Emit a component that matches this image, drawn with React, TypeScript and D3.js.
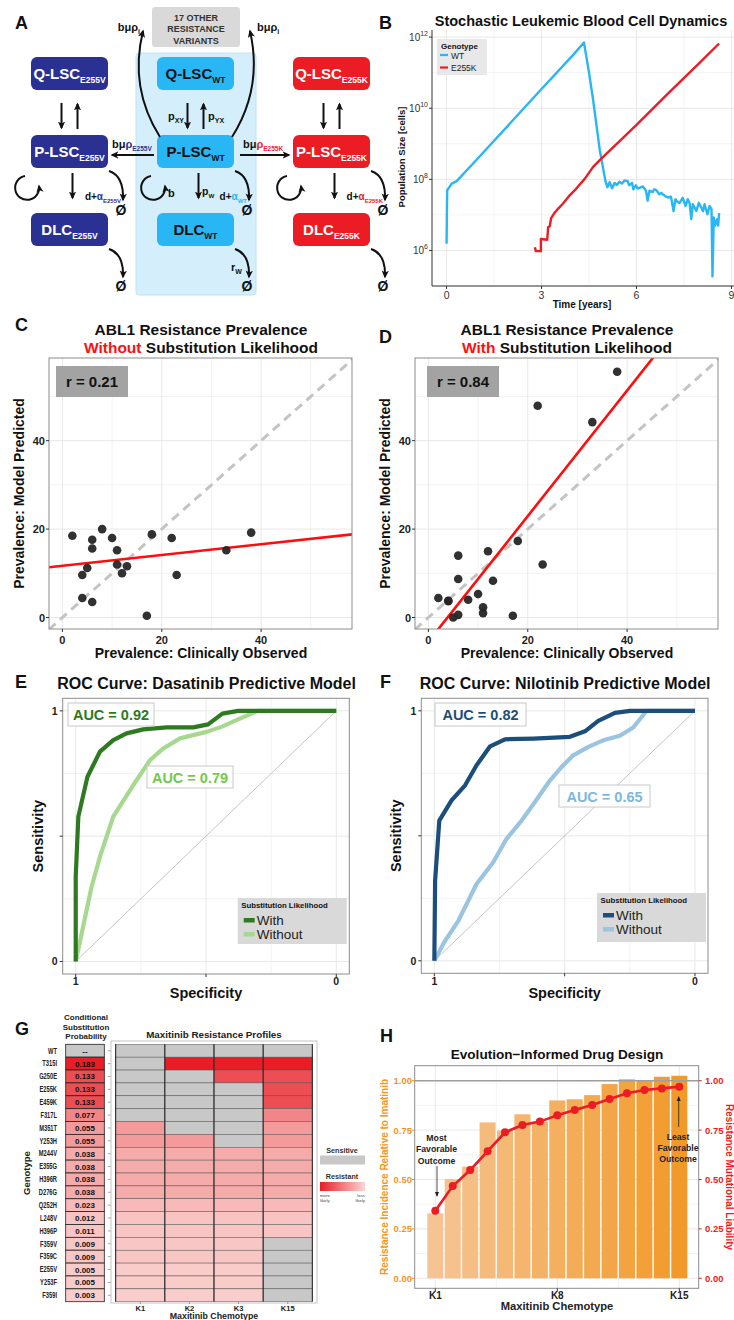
import React from 'react';
import * as d3 from 'd3';

const FONT = '"Liberation Sans", Arial, Helvetica, sans-serif';

const NAVY = '#2b3192';
const SKY = '#29b6f5';
const RED = '#ec1c24';
const ORANGE = '#f7941d';
const GRID = '#e8e8e8';
const GRID_MINOR = '#f3f3f3';
const FRAME = '#8c8c8c';

// ---- panel B: population size over time, [years, log10 cells]
const wtSeries: [number, number][] = [
  [0, 6.19], [0.01, 7.0], [0.02, 7.69], [0.16, 7.88], [0.32, 7.95], [1.0, 8.6], [2.0, 9.57],
  [3.0, 10.54], [4.0, 11.5], [4.34, 11.85], [4.5, 11.0], [4.63, 10.23], [4.84, 8.82],
  [5.02, 7.95], [5.08, 7.78], [5.15, 7.92], [5.23, 7.75], [5.31, 7.9], [5.38, 7.84],
  [5.46, 7.93], [5.54, 7.88], [5.62, 7.97], [5.72, 7.95], [5.77, 7.83], [5.86, 7.9],
  [5.9, 7.72], [5.98, 7.83], [6.04, 7.74], [6.09, 7.76], [6.2, 7.8], [6.3, 7.68],
  [6.35, 7.4], [6.41, 7.68], [6.51, 7.64], [6.56, 7.72], [6.62, 7.7], [6.72, 7.58],
  [6.78, 7.62], [6.83, 7.58], [6.92, 7.52], [6.99, 7.49], [7.09, 7.51], [7.17, 7.11],
  [7.23, 7.44], [7.3, 7.36], [7.36, 7.34], [7.46, 7.48], [7.55, 7.25], [7.62, 7.44],
  [7.68, 7.32], [7.73, 6.88], [7.78, 7.3], [7.84, 7.2], [7.89, 7.11], [7.97, 7.34],
  [8.05, 7.2], [8.1, 7.1], [8.15, 7.3], [8.24, 7.02], [8.31, 7.25], [8.37, 7.16],
  [8.4, 5.27], [8.44, 6.93], [8.48, 6.7], [8.55, 6.88], [8.58, 6.7], [8.61, 7.05],
];
const e255kSeries: [number, number][] = [
  [2.79, 6.09], [2.82, 5.98], [2.98, 5.98], [2.98, 6.32], [3.18, 6.3], [3.21, 6.66],
  [3.26, 6.68], [3.3, 6.9], [3.39, 7.03], [3.52, 7.17], [3.68, 7.32], [3.89, 7.55],
  [4.1, 7.74], [4.37, 8.02], [4.63, 8.35], [4.84, 8.54], [5.5, 9.1], [6.0, 9.53],
  [7.0, 10.42], [8.0, 11.28], [8.61, 11.82],
];
const timeTicks = [0, 3, 6, 9];
const logTicks = [6, 8, 10, 12];

// ---- panels C, D: prevalence, one entry per resistance genotype
const clinicalObserved = [2, 8, 6, 6, 10, 11, 11, 5, 4, 4, 6, 13, 12, 18, 22, 23, 17, 33, 38];
const predictedWithout = [18.5, 20, 17.6, 15.6, 18, 15.2, 12, 11.2, 9.6, 4.4, 3.5, 11.6, 10, 18.8, 18, 9.6, 0.4, 15.2, 19.2];
const predictedWith = [4.4, 4.0, 14.0, 8.7, 5.3, 2.3, 1.0, 0.0, 3.8, 3.7, 0.6, 8.3, 15.0, 17.3, 47.9, 12.0, 0.4, 44.2, 55.6];
const prevalenceTicks = [0, 20, 40];
const fitWithout = { intercept: 11.7, slope: 0.122, r: '0.21' };
const fitWith = { intercept: -5.46, slope: 1.42, r: '0.84' };

// ---- panels E, F: ROC curves
const dasWithSpec = [1, 1, 0.99, 0.955, 0.907, 0.856, 0.805, 0.741, 0.651, 0.549, 0.492, 0.437, 0.377, 0];
const dasWithSens = [0, 0.339, 0.578, 0.737, 0.837, 0.883, 0.91, 0.926, 0.934, 0.934, 0.946, 0.989, 1, 1];
const dasWithoutSpec = [1, 0.977, 0.939, 0.907, 0.856, 0.779, 0.715, 0.664, 0.6, 0.498, 0.441, 0.37, 0.3, 0];
const dasWithoutSens = [0, 0.113, 0.299, 0.418, 0.578, 0.704, 0.803, 0.85, 0.89, 0.916, 0.936, 0.969, 1, 1];
const nilWithSpec = [1, 0.997, 0.981, 0.934, 0.882, 0.838, 0.786, 0.729, 0.62, 0.48, 0.422, 0.371, 0.307, 0.249, 0];
const nilWithSens = [0, 0.321, 0.561, 0.642, 0.702, 0.782, 0.858, 0.886, 0.889, 0.896, 0.918, 0.96, 0.992, 1, 1];
const nilWithoutSpec = [1, 0.959, 0.908, 0.838, 0.774, 0.723, 0.665, 0.614, 0.556, 0.512, 0.467, 0.409, 0.352, 0.288, 0.237, 0.185, 0];
const nilWithoutSens = [0, 0.08, 0.16, 0.307, 0.394, 0.488, 0.561, 0.635, 0.722, 0.775, 0.822, 0.856, 0.882, 0.9, 0.933, 1, 1];
const legendItems = ['With', 'Without'];

// ---- panel G: resistance profiles
const genotypes = ['WT', 'T315I', 'G250E', 'E255K', 'E459K', 'F317L', 'M351T', 'Y253H', 'M244V', 'E355G',
  'H396R', 'D276G', 'Q252H', 'L248V', 'H396P', 'F359V', 'F359C', 'E255V', 'Y253F', 'F359I'];
const substitutionProb = [null, 0.183, 0.133, 0.133, 0.133, 0.077, 0.055, 0.055, 0.038, 0.038,
  0.038, 0.038, 0.023, 0.012, 0.011, 0.009, 0.009, 0.005, 0.005, 0.003];
const chemotypesG = ['K1', 'K2', 'K3', 'K15'];
const resK1 = [0, 0, 0, 0, 0, 0, 1, 1, 1, 1, 1, 1, 1, 1, 1, 1, 1, 1, 1, 1];
const resK2 = [0, 1, 0, 0, 0, 0, 0, 1, 1, 1, 1, 1, 1, 1, 1, 1, 1, 1, 1, 1];
const resK3 = [0, 1, 1, 0, 0, 0, 0, 0, 1, 1, 1, 1, 1, 1, 1, 1, 1, 1, 1, 1];
const resK15 = [0, 1, 1, 1, 1, 1, 1, 1, 1, 1, 1, 1, 1, 1, 1, 0, 0, 0, 0, 0];

// ---- panel H: drug design
const chemotypesH = ['K1', 'K2', 'K3', 'K4', 'K5', 'K6', 'K7', 'K8', 'K9', 'K10', 'K11', 'K12', 'K13', 'K14', 'K15'];
const incidence = [0.329, 0.502, 0.565, 0.789, 0.747, 0.83, 0.793, 0.9, 0.906, 0.927, 0.983, 1.007, 1.0, 1.02, 1.025];
const liability = [0.342, 0.467, 0.548, 0.643, 0.739, 0.776, 0.793, 0.825, 0.852, 0.877, 0.907, 0.936, 0.953, 0.961, 0.97];
const hTicks = [0, 0.25, 0.5, 0.75, 1];
const hLabelled = ['K1', 'K8', 'K15'];

const Letter = ({ x, y, c }: any) => (
  <text x={x} y={y} fontSize={18} fontWeight="bold" fill="#111">{c}</text>
);

// ================= A =================
function PanelA() {
  const BW = 77, BH = 33;
  const cols = [
    { x: 31, fill: NAVY, ink: '#fff', sub: 'E255V', accent: NAVY },
    { x: 157, fill: SKY, ink: '#111', sub: 'WT', accent: SKY },
    { x: 293, fill: RED, ink: '#fff', sub: 'E255K', accent: RED },
  ];
  const rows = [{ y: 57, main: 'Q-LSC' }, { y: 135, main: 'P-LSC' }, { y: 213, main: 'DLC' }];
  const arrow = { stroke: '#111', strokeWidth: 2, fill: 'none', markerEnd: 'url(#ah)' };
  return (
    <g>
      <Letter x={15} y={29} c="A" />
      <rect x={136} y={53} width={120} height={242} rx={3} fill="#d4eefb" stroke="#c0e2f4" />
      <rect x={152} y={7} width={88} height={40} rx={3} fill="#d9d9d9" />
      {['17 OTHER', 'RESISTANCE', 'VARIANTS'].map((t, i) => (
        <text key={t} x={196} y={20.5 + i * 11.5} textAnchor="middle" fontSize={9} fontWeight="bold" fill="#333">{t}</text>
      ))}
      {cols.map((c) => {
        const cx = c.x + BW / 2;
        const R = c.x + BW;
        return (
          <g key={c.sub}>
            {rows.map((r) => (
              <g key={r.main}>
                <rect x={c.x} y={r.y} width={BW} height={BH} rx={6} fill={c.fill} />
                <text x={cx} y={r.y + BH / 2 + 5} textAnchor="middle" fontSize={15} fontWeight="bold" fill={c.ink}>
                  {r.main}<tspan fontSize={8.5} dy={4}>{c.sub}</tspan>
                </text>
              </g>
            ))}
            <path d={`M${cx - 8},103 L${cx - 8},128`} {...arrow} />
            <path d={`M${cx + 8},129 L${cx + 8},104`} {...arrow} />
            <path d={`M${cx + 3},173 L${cx + 3},198`} {...arrow} />
            <path d={`M${c.x - 6},176 A12,12 0 1 0 ${c.x + 8},186`} {...arrow} />
            <path d={`M${R + 1},171 Q${R + 16},176 ${R + 15},200`} {...arrow} />
            <path d={`M${R + 1},249 Q${R + 16},254 ${R + 15},277`} {...arrow} />
            <text x={R + 13} y={215} textAnchor="middle" fontSize={14} fontWeight="bold" fill="#111">Ø</text>
            <text x={R + 13} y={291} textAnchor="middle" fontSize={14} fontWeight="bold" fill="#111">Ø</text>
            <text x={R + 13} y={200} textAnchor="end" fontSize={10} fontWeight="bold" fill="#111">
              d+<tspan fill={c.accent}>α</tspan><tspan fill={c.accent} fontSize={6} dy={3}>{c.sub}</tspan>
            </text>
          </g>
        );
      })}
      <text x={184} y={120} textAnchor="end" fontSize={11} fontWeight="bold" fill="#111">p<tspan fontSize={7} dy={3}>XY</tspan></text>
      <text x={208} y={120} fontSize={11} fontWeight="bold" fill="#111">p<tspan fontSize={7} dy={3}>YX</tspan></text>
      <text x={202} y={195} fontSize={10.5} fontWeight="bold" fill="#111">p<tspan fontSize={6.2} dy={3}>W</tspan></text>
      <text x={168} y={197} fontSize={11} fontWeight="bold" fill="#111">b</text>
      <text x={231} y={271} fontSize={11} fontWeight="bold" fill="#111">r<tspan fontSize={7} dy={3}>W</tspan></text>
      <path d="M154,155 L112,155" {...arrow} />
      <path d="M240,155 L289,155" {...arrow} />
      <text x={112} y={148} fontSize={11} fontWeight="bold" fill="#111">
        bμ<tspan fill={NAVY}>ρ</tspan><tspan fill={NAVY} fontSize={6.5} dy={3}>E255V</tspan>
      </text>
      <text x={243} y={148} fontSize={11} fontWeight="bold" fill="#111">
        bμ<tspan fill={RED}>ρ</tspan><tspan fill={RED} fontSize={6.5} dy={3}>E255K</tspan>
      </text>
      <path d="M160,137 Q129,88 143,31" {...arrow} />
      <path d="M232,137 Q263,88 250,31" {...arrow} />
      <text x={140} y={31} textAnchor="end" fontSize={11} fontWeight="bold" fill="#111">bμρ<tspan fontSize={7} dy={3}>i</tspan></text>
      <text x={257} y={31} fontSize={11} fontWeight="bold" fill="#111">bμρ<tspan fontSize={7} dy={3}>i</tspan></text>
    </g>
  );
}

// ================= B =================
function PanelB() {
  const x = d3.scaleLinear().domain([-0.46, 9.08]).range([432, 734]);
  const y = d3.scaleLinear().domain([5, 12.2]).range([286, 30]);
  const line = d3.line<[number, number]>().x((d) => x(d[0])).y((d) => y(d[1]));
  return (
    <g>
      <Letter x={379} y={29} c="B" />
      <text x={581} y={26} textAnchor="middle" fontSize={14.5} fontWeight="bold" fill="#111">Stochastic Leukemic Blood Cell Dynamics</text>
      {[1.5, 4.5, 7.5].map((t) => <line key={t} x1={x(t)} x2={x(t)} y1={30} y2={286} stroke={GRID_MINOR} />)}
      {[5, 7, 9, 11].map((t) => <line key={t} x1={432} x2={734} y1={y(t)} y2={y(t)} stroke={GRID_MINOR} />)}
      {timeTicks.map((t) => <line key={t} x1={x(t)} x2={x(t)} y1={30} y2={286} stroke={GRID} />)}
      {logTicks.map((t) => <line key={t} x1={432} x2={734} y1={y(t)} y2={y(t)} stroke={GRID} />)}
      <path d={line(wtSeries) || ''} fill="none" stroke={SKY} strokeWidth={2.4} strokeLinejoin="round" />
      <path d={line(e255kSeries) || ''} fill="none" stroke={RED} strokeWidth={2.4} strokeLinejoin="round" />
      <line x1={432} x2={432} y1={30} y2={286} stroke="#333" />
      <line x1={432} x2={734} y1={286} y2={286} stroke="#333" />
      {timeTicks.map((t) => (
        <g key={t}>
          <line x1={x(t)} x2={x(t)} y1={286} y2={289} stroke="#333" />
          <text x={x(t)} y={299} textAnchor="middle" fontSize={10.5} fill="#333">{t}</text>
        </g>
      ))}
      {logTicks.map((t) => (
        <g key={t}>
          <line x1={429} x2={432} y1={y(t)} y2={y(t)} stroke="#333" />
          <text x={428} y={y(t) + 4} textAnchor="end" fontSize={10} fill="#333">10<tspan fontSize={7} dy={-5}>{t}</tspan></text>
        </g>
      ))}
      <text x={582} y={308} textAnchor="middle" fontSize={10} fontWeight="bold" fill="#111">Time [years]</text>
      <text transform={`translate(405,157) rotate(-90)`} textAnchor="middle" fontSize={9.5} fontWeight="bold" fill="#111">Population Size [cells]</text>
      <rect x={437} y={39} width={50} height={36} fill="#e8e8e8" />
      <text x={441} y={49} fontSize={8} fontWeight="bold" fill="#111">Genotype</text>
      {[{ n: 'WT', c: SKY }, { n: 'E255K', c: RED }].map((d, i) => (
        <g key={d.n}>
          <line x1={440} x2={448} y1={55 + i * 12.5} y2={55 + i * 12.5} stroke={d.c} strokeWidth={2.2} />
          <text x={451} y={58.5 + i * 12.5} fontSize={8.5} fill="#222">{d.n}</text>
        </g>
      ))}
    </g>
  );
}

// ================= C / D =================
function ScatterPanel({ px, letterY, letterX, word, pred, fit, rBoxX }: any) {
  const pw = 303, py = 358, ph = 271;
  const x = d3.scaleLinear().domain([-2.7, 58.3]).range([px, px + pw]);
  const y = d3.scaleLinear().domain([-2.6, 58.7]).range([py + ph, py]);
  const id = `clip${px}`;
  const minor = [10, 30, 50];
  const fitLine = d3.line<number>().x((d) => x(d)).y((d) => y(fit.intercept + fit.slope * d));
  const cx = px + pw / 2;
  return (
    <g>
      <Letter x={letterX} y={letterY} c={letterX < 100 ? 'C' : 'D'} />
      <text x={cx + 0.5} y={335} textAnchor="middle" fontSize={15.5} fontWeight="bold" fill="#111">ABL1 Resistance Prevalence</text>
      <text x={cx + 0.5} y={353} textAnchor="middle" fontSize={15.5} fontWeight="bold" fill="#111">
        <tspan fill="#ff1010">{word}</tspan> Substitution Likelihood
      </text>
      <clipPath id={id}><rect x={px} y={py} width={pw} height={ph} /></clipPath>
      {minor.map((t) => (
        <g key={t}>
          <line x1={x(t)} x2={x(t)} y1={py} y2={py + ph} stroke={GRID_MINOR} />
          <line x1={px} x2={px + pw} y1={y(t)} y2={y(t)} stroke={GRID_MINOR} />
        </g>
      ))}
      {prevalenceTicks.map((t) => (
        <g key={t}>
          <line x1={x(t)} x2={x(t)} y1={py} y2={py + ph} stroke={GRID} />
          <line x1={px} x2={px + pw} y1={y(t)} y2={y(t)} stroke={GRID} />
        </g>
      ))}
      <g clipPath={`url(#${id})`}>
        <line x1={x(-5)} y1={y(-5)} x2={x(62)} y2={y(62)} stroke="#c4c4c4" strokeWidth={3} strokeDasharray="9 6" />
        <path d={fitLine([-5, 62]) || ''} stroke="#ff0d0d" strokeWidth={2.6} fill="none" />
      </g>
      {clinicalObserved.map((v, i) => (
        <circle key={i} cx={x(v)} cy={y(pred[i])} r={4.3} fill="#262626" fillOpacity={0.95} />
      ))}
      <rect x={px} y={py} width={pw} height={ph} fill="none" stroke={FRAME} />
      <rect x={rBoxX} y={366} width={72} height={31} fill="#a3a3a3" />
      <text x={rBoxX + 36} y={387} textAnchor="middle" fontSize={15} fontWeight="bold" fill="#111">r = {fit.r}</text>
      {prevalenceTicks.map((t) => (
        <g key={t}>
          <line x1={x(t)} x2={x(t)} y1={py + ph} y2={py + ph + 3} stroke="#333" />
          <text x={x(t)} y={644} textAnchor="middle" fontSize={11} fontWeight="bold" fill="#222">{t}</text>
          <line x1={px - 3} x2={px} y1={y(t)} y2={y(t)} stroke="#333" />
          <text x={px - 4} y={y(t) + 4} textAnchor="end" fontSize={11} fontWeight="bold" fill="#222">{t}</text>
        </g>
      ))}
      <text x={cx + 0.5} y={658} textAnchor="middle" fontSize={14} fontWeight="bold" fill="#111">Prevalence: Clinically Observed</text>
      <text transform={`translate(${px - 25},${py + ph / 2}) rotate(-90)`} textAnchor="middle" fontSize={14} fontWeight="bold" fill="#111">Prevalence: Model Predicted</text>
    </g>
  );
}

// ================= E / F =================
function RocPanel({ px, pw, ph, letter, letterX, title, withSpec, withSens, woSpec, woSens, cWith, cWo, cWoText, auc1, auc2, box1, box2, legend }: any) {
  const py = 698.3;
  const x = d3.scaleLinear().domain([1.05, -0.05]).range([px, px + pw]);
  const y = d3.scaleLinear().domain([-0.05, 1.05]).range([py + ph, py]);
  const line = d3.line<number>().x((d) => x(d[0])).y((d) => y(d[1]));
  const pairs = (s: number[], t: number[]) => s.map((v, i) => [v, t[i]]);
  const cx = px + pw / 2;
  return (
    <g>
      <Letter x={letterX} y={688} c={letter} />
      <text x={cx + 0.5} y={689} textAnchor="middle" fontSize={16} fontWeight="bold" fill="#111">{title}</text>
      {[0.25, 0.75].map((t) => (
        <g key={t}>
          <line x1={x(t)} x2={x(t)} y1={py} y2={py + ph} stroke={GRID_MINOR} />
          <line x1={px} x2={px + pw} y1={y(t)} y2={y(t)} stroke={GRID_MINOR} />
        </g>
      ))}
      {[0, 0.5, 1].map((t) => (
        <g key={t}>
          <line x1={x(t)} x2={x(t)} y1={py} y2={py + ph} stroke={GRID} />
          <line x1={px} x2={px + pw} y1={y(t)} y2={y(t)} stroke={GRID} />
        </g>
      ))}
      <line x1={x(1)} y1={y(0)} x2={x(0)} y2={y(1)} stroke="#b5b5b5" strokeWidth={0.8} />
      <path d={line(pairs(woSpec, woSens) as any) || ''} fill="none" stroke={cWo} strokeWidth={4.2} strokeLinejoin="round" />
      <path d={line(pairs(withSpec, withSens) as any) || ''} fill="none" stroke={cWith} strokeWidth={4.2} strokeLinejoin="round" />
      <rect x={px} y={py} width={pw} height={ph} fill="none" stroke={FRAME} />
      {[0, 0.5, 1].map((t) => (
        <g key={t}>
          <line x1={x(t)} x2={x(t)} y1={py + ph} y2={py + ph + 3} stroke="#333" />
          <line x1={px - 3} x2={px} y1={y(t)} y2={y(t)} stroke="#333" />
          {t !== 0.5 && <text x={x(t)} y={985} textAnchor="middle" fontSize={10.5} fontWeight="bold" fill="#222">{t}</text>}
          {t !== 0.5 && <text x={px - 5} y={y(t) + 4} textAnchor="end" fontSize={10.5} fontWeight="bold" fill="#222">{t}</text>}
        </g>
      ))}
      <text x={cx} y={998} textAnchor="middle" fontSize={14.5} fontWeight="bold" fill="#111">Specificity</text>
      <text transform={`translate(${px - 20},${py + ph / 2}) rotate(-90)`} textAnchor="middle" fontSize={14.5} fontWeight="bold" fill="#111">Sensitivity</text>
      <rect x={box1[0]} y={box1[1]} width={box1[2]} height={23} fill="#fff" stroke="#c8c8c8" />
      <text x={box1[0] + box1[2] / 2} y={box1[1] + 17} textAnchor="middle" fontSize={14.5} fontWeight="bold" fill={cWith}>{auc1}</text>
      <rect x={box2[0]} y={box2[1]} width={box2[2]} height={22} fill="#fff" stroke="#c8c8c8" />
      <text x={box2[0] + box2[2] / 2} y={box2[1] + 16.5} textAnchor="middle" fontSize={14.5} fontWeight="bold" fill={cWoText}>{auc2}</text>
      <rect x={legend[0]} y={legend[1]} width={109} height={legend[2]} fill="#d9d9d9" />
      <text x={legend[0] + 3.5} y={legend[1] + 9.5} fontSize={7.8} fontWeight="bold" fill="#111">Substitution Likelihood</text>
      {legendItems.map((n, i) => (
        <g key={n}>
          <rect x={legend[0] + 6} y={legend[1] + 20 + i * 14} width={11} height={4.5} fill={i === 0 ? cWith : cWo} />
          <text x={legend[0] + 19} y={legend[1] + 26.5 + i * 14} fontSize={13.5} fill="#222">{n}</text>
        </g>
      ))}
    </g>
  );
}

// ================= G =================
function PanelG() {
  const y = d3.scaleBand<string>().domain(genotypes).range([1044.3, 1301.7]);
  const x = d3.scaleBand<string>().domain(chemotypesG).range([115.7, 312.3]);
  const color = d3.scaleLinear<string>().domain([0.003, 0.183]).range(['#f9cdcb', '#e81d25']);
  const res = [resK1, resK2, resK3, resK15];
  const gray = '#c8c8c8';
  const bh = y.bandwidth();
  return (
    <g>
      <Letter x={15} y={1035} c="G" />
      {['Conditional', 'Substitution', 'Probability'].map((t, i) => (
        <text key={t} x={86} y={1020 + i * 9.5} textAnchor="middle" fontSize={8} fontWeight="bold" fill="#222">{t}</text>
      ))}
      <text x={214} y={1038} textAnchor="middle" fontSize={9.8} fontWeight="bold" fill="#222">Maxitinib Resistance Profiles</text>
      <text transform="translate(30,1173) rotate(-90)" textAnchor="middle" fontSize={9.5} fontWeight="bold" fill="#222">Genotype</text>
      <rect x={111} y={1041} width={206} height={262} fill="none" stroke="#c4c4c4" />
      {genotypes.map((g, i) => {
        const p = substitutionProb[i];
        const yy = y(g) as number;
        return (
          <g key={g}>
            <text transform={`translate(57,${yy + bh / 2 + 2.8}) scale(0.7,1)`} textAnchor="end" fontSize={8.2} fontWeight="bold" fill="#222">{g}</text>
            <rect x={65.7} y={yy} width={38.6} height={bh} fill={p == null ? gray : color(p)} stroke="#222" strokeWidth={0.8} />
            <text x={85} y={yy + bh / 2 + 3} textAnchor="middle" fontSize={8} fontWeight="bold" fill="#111">{p == null ? '--' : p.toFixed(3)}</text>
            <line x1={108} x2={110.5} y1={yy + bh / 2} y2={yy + bh / 2} stroke="#666" strokeWidth={0.6} />
            {chemotypesG.map((k, j) => (
              <rect key={k} x={x(k)} y={yy} width={x.bandwidth()} height={bh}
                fill={res[j][i] && p != null ? color(p) : gray} stroke="#555" strokeWidth={0.5} />
            ))}
          </g>
        );
      })}
      {chemotypesG.map((k) => (
        <g key={k}>
          <line x1={x(k)} x2={x(k)} y1={1044.3} y2={1301.7} stroke="#222" strokeWidth={1} />
          <line x1={(x(k) as number) + x.bandwidth() / 2} x2={(x(k) as number) + x.bandwidth() / 2} y1={1302} y2={1304} stroke="#666" strokeWidth={0.6} />
          <text x={(x(k) as number) + x.bandwidth() / 2} y={1311} textAnchor="middle" fontSize={7.5} fontWeight="bold" fill="#222">{k}</text>
        </g>
      ))}
      <line x1={312.3} x2={312.3} y1={1044.3} y2={1301.7} stroke="#222" strokeWidth={1} />
      <text x={214} y={1318.5} textAnchor="middle" fontSize={8.8} fontWeight="bold" fill="#222">Maxitinib Chemotype</text>
      <defs>
        <linearGradient id="resGrad" x1="0" x2="1" y1="0" y2="0">
          <stop offset="0" stopColor="#e81d25" />
          <stop offset="1" stopColor="#fbd6d4" />
        </linearGradient>
      </defs>
      <text x={342} y={1153} textAnchor="middle" fontSize={7.2} fontWeight="bold" fill="#333">Sensitive</text>
      <rect x={320} y={1155.5} width={45} height={9} fill={gray} />
      <text x={342} y={1179} textAnchor="middle" fontSize={7.2} fontWeight="bold" fill="#333">Resistant</text>
      <rect x={320} y={1182} width={45} height={9} fill="url(#resGrad)" />
      <text x={320} y={1197} fontSize={4.3} fill="#444">more</text>
      <text x={320} y={1202} fontSize={4.3} fill="#444">likely</text>
      <text x={365} y={1197} textAnchor="end" fontSize={4.3} fill="#444">less</text>
      <text x={365} y={1202} textAnchor="end" fontSize={4.3} fill="#444">likely</text>
    </g>
  );
}

// ================= H =================
function PanelH() {
  const px = 414.7, pw = 284, py = 1065.7, ph = 222.6;
  const x = d3.scaleBand<string>().domain(chemotypesH).range([427.3, 687.3]).paddingInner(0.08);
  const y = d3.scaleLinear().domain([0, 1]).range([1278.3, 1080.7]);
  const barColor = d3.interpolateRgb('#f6c494', '#f29a29');
  const c = (k: string) => (x(k) as number) + x.bandwidth() / 2;
  const line = d3.line<number>().x((_, i) => c(chemotypesH[i])).y((d) => y(d));
  const minorY = [0.125, 0.375, 0.625, 0.875];
  const midX = [(c('K1') + c('K8')) / 2, (c('K8') + c('K15')) / 2];
  return (
    <g>
      <Letter x={380} y={1042} c="H" />
      <text x={557} y={1059} textAnchor="middle" fontSize={13.6} fontWeight="bold" fill="#111">Evolution−Informed Drug Design</text>
      {minorY.map((t) => <line key={t} x1={px} x2={px + pw} y1={y(t)} y2={y(t)} stroke={GRID_MINOR} />)}
      {midX.map((t) => <line key={t} x1={t} x2={t} y1={py} y2={py + ph} stroke={GRID_MINOR} />)}
      {hTicks.map((t) => <line key={t} x1={px} x2={px + pw} y1={y(t)} y2={y(t)} stroke={GRID} />)}
      {hLabelled.map((k) => <line key={k} x1={c(k)} x2={c(k)} y1={py} y2={py + ph} stroke={GRID} />)}
      {chemotypesH.map((k, i) => (
        <rect key={k} x={x(k)} y={y(incidence[i])} width={x.bandwidth()} height={y(0) - y(incidence[i])} fill={barColor(i / 14)} />
      ))}
      <line x1={px} x2={px + pw} y1={y(1)} y2={y(1)} stroke="#9e9e9e" strokeWidth={1.6} />
      <path d={line(liability) || ''} fill="none" stroke={RED} strokeWidth={2.6} />
      {liability.map((v, i) => <circle key={i} cx={c(chemotypesH[i])} cy={y(v)} r={4} fill={RED} />)}
      <rect x={px} y={py} width={pw} height={ph} fill="none" stroke={FRAME} />
      {hTicks.map((t) => (
        <g key={t}>
          <line x1={px - 3} x2={px} y1={y(t)} y2={y(t)} stroke={ORANGE} />
          <text x={412} y={y(t) + 3.5} textAnchor="end" fontSize={9.5} fontWeight="bold" fill={ORANGE}>{t.toFixed(2)}</text>
          <line x1={px + pw} x2={px + pw + 3} y1={y(t)} y2={y(t)} stroke={RED} />
          <text x={705} y={y(t) + 3.5} fontSize={9.5} fontWeight="bold" fill={RED}>{t.toFixed(2)}</text>
        </g>
      ))}
      {hLabelled.map((k) => (
        <g key={k}>
          <line x1={c(k)} x2={c(k)} y1={py + ph} y2={py + ph + 3} stroke="#333" />
          <text x={c(k)} y={1299} textAnchor="middle" fontSize={10} fontWeight="bold" fill="#222">{k}</text>
        </g>
      ))}
      <text x={557} y={1310} textAnchor="middle" fontSize={11.2} fontWeight="bold" fill="#222">Maxitinib Chemotype</text>
      <text transform="translate(388,1177) rotate(-90)" textAnchor="middle" fontSize={10} fontWeight="bold" fill={ORANGE}>Resistance Incidence Relative to Imatinib</text>
      <text transform="translate(725.5,1177) rotate(90)" textAnchor="middle" fontSize={10} fontWeight="bold" fill={RED}>Resistance Mutational Liability</text>
      {['Most', 'Favorable', 'Outcome'].map((t, i) => (
        <text key={t} x={436.5} y={1140.5 + i * 11.5} textAnchor="middle" fontSize={8.7} fontWeight="bold" fill="#222">{t}</text>
      ))}
      <path d="M437,1166 L437,1196" stroke="#222" strokeWidth={0.8} markerEnd="url(#ahs)" />
      {['Least', 'Favorable', 'Outcome'].map((t, i) => (
        <text key={t} x={678} y={1140 + i * 11} textAnchor="middle" fontSize={8.7} fontWeight="bold" fill="#222">{t}</text>
      ))}
      <path d="M678.7,1127 L678.7,1097" stroke="#222" strokeWidth={0.8} markerEnd="url(#ahs)" />
    </g>
  );
}

export default function App() {
  return (
    <svg width={734} height={1320} viewBox="0 0 734 1320" fontFamily={FONT}
      style={{ position: 'absolute', left: 0, top: 0, background: '#fff' }}>
      <defs>
        <marker id="ah" viewBox="0 0 10 10" refX="8" refY="5" markerWidth="8" markerHeight="8" markerUnits="userSpaceOnUse" orient="auto">
          <path d="M0,0.5 L10,5 L0,9.5 L2.5,5 z" fill="#111" />
        </marker>
        <marker id="ahs" viewBox="0 0 10 10" refX="8" refY="5" markerWidth="5" markerHeight="5" markerUnits="userSpaceOnUse" orient="auto">
          <path d="M0,1 L10,5 L0,9 z" fill="#222" />
        </marker>
      </defs>
      <rect width={734} height={1320} fill="#fff" />
      <PanelA />
      <PanelB />
      <ScatterPanel px={49} letterX={15} letterY={331} word="Without" pred={predictedWithout} fit={fitWithout} rBoxX={56} />
      <ScatterPanel px={415} letterX={379} letterY={343} word="With" pred={predictedWith} fit={fitWith} rBoxX={427} />
      <RocPanel px={62.7} pw={286.6} ph={275.7} letter="E" letterX={15} title="ROC Curve: Dasatinib Predictive Model"
        withSpec={dasWithSpec} withSens={dasWithSens} woSpec={dasWithoutSpec} woSens={dasWithoutSens}
        cWith="#2e7a20" cWo="#a6d98f" cWoText="#74c947" auc1="AUC = 0.92" auc2="AUC = 0.79"
        box1={[68, 703, 86]} box2={[147, 766, 86]} legend={[237.7, 898, 46]} />
      <RocPanel px={421.3} pw={286.7} ph={275} letter="F" letterX={380} title="ROC Curve: Nilotinib Predictive Model"
        withSpec={nilWithSpec} withSens={nilWithSens} woSpec={nilWithoutSpec} woSens={nilWithoutSens}
        cWith="#1c4e7c" cWo="#9bc4e0" cWoText="#7cb8de" auc1="AUC = 0.82" auc2="AUC = 0.65"
        box1={[435, 703, 91]} box2={[559, 785, 91]} legend={[597, 893, 49]} />
      <PanelG />
      <PanelH />
    </svg>
  );
}
